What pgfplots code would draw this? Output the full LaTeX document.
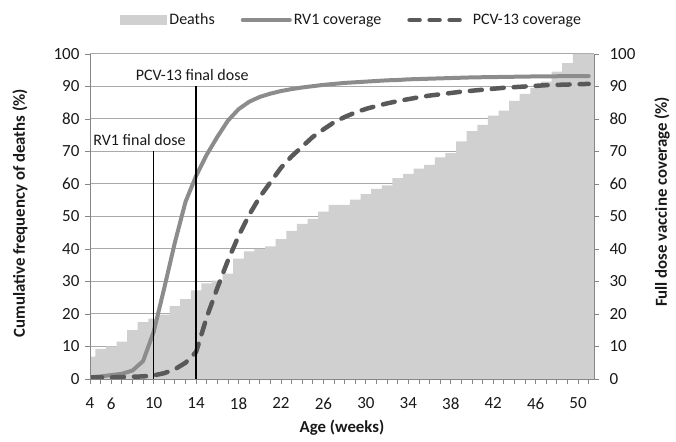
\documentclass[border=0pt]{standalone}
\usepackage{pgfplots}
\usepackage{pgfplotstable}
\pgfplotsset{compat=1.18}
\usepackage{fontspec}
\setmainfont{Carlito}
\definecolor{deathgray}{RGB}{208,208,208}
\definecolor{rvgray}{RGB}{140,140,140}
\definecolor{pcvgray}{RGB}{89,89,89}
\definecolor{gridgray}{RGB}{170,170,170}
\definecolor{axisgray}{RGB}{134,134,134}
\definecolor{txt}{RGB}{25,25,25}
\newcommand{\fs}{\fontsize{16}{19.2}\selectfont}
\newcommand{\ft}{\fontsize{17}{20}\selectfont}
\newcommand{\fl}{\fontsize{16.8}{20}\selectfont}
% cumulative deaths: value of week w held from w-0.5 to w+0.5
\pgfplotstableread{
x y
4 6.9
4.5 9.3
5.5 10.0
6.5 11.5
7.5 15.0
8.5 17.5
9.5 18.6
10.5 19.8
11.5 22.4
12.5 24.6
13.5 27.3
14.5 29.4
15.5 30.3
16.5 32.4
17.5 37.0
18.5 39.3
19.5 40.0
20.5 40.8
21.5 43.0
22.5 45.6
23.5 47.7
24.5 49.3
25.5 51.5
26.5 53.6
27.5 53.6
28.5 55.2
29.5 56.9
30.5 58.5
31.5 59.6
32.5 61.8
33.5 63.1
34.5 64.7
35.5 65.9
36.5 68.2
37.5 69.5
38.5 73.1
39.5 76.3
40.5 78.2
41.5 81.0
42.5 82.6
43.5 85.6
44.5 87.7
45.5 89.5
46.5 91.5
47.5 94.6
48.5 97.2
49.5 100
50.5 100
51.5 100
}\deaths
\pgfplotstableread{
x y
4 0.5
5 0.8
6 1.2
7 1.6
8 2.6
9 5.5
10 14.5
11 28
12 42
13 54.5
14 62.5
15 69
16 74.5
17 79.5
18 83
19 85.3
20 86.8
21 87.8
22 88.6
23 89.2
24 89.7
25 90.1
26 90.5
27 90.8
28 91.1
29 91.3
30 91.5
31 91.7
32 91.9
33 92.0
34 92.2
35 92.3
36 92.4
37 92.5
38 92.6
39 92.7
40 92.8
41 92.85
42 92.9
43 92.95
44 93.0
45 93.05
46 93.1
47 93.1
48 93.15
49 93.2
50 93.2
51 93.2
}\rvone
\pgfplotstableread{
x y
4 0.5
5 0.5
6 0.5
7 0.6
8 0.7
9 0.8
10 1.1
11 1.8
12 3.0
13 5.0
14 8.3
15 19
16 28
17 36.5
18 44
19 50.5
20 56
21 60.5
22 65
23 68.5
24 71.5
25 74.5
26 76.8
27 79
28 80.6
29 82
30 83.1
31 84
32 84.8
33 85.5
34 86.1
35 86.7
36 87.2
37 87.6
38 88.0
39 88.4
40 88.7
41 89.0
42 89.3
43 89.6
44 89.8
45 90.0
46 90.2
47 90.4
48 90.5
49 90.6
50 90.7
51 90.8
}\pcv
\begin{document}
\begin{tikzpicture}
\path[use as bounding box] (0,0) rectangle (676pt,441pt);
\begin{axis}[
  at={(90pt,62pt)}, anchor=south west,
  scale only axis, width=504pt, height=325pt,
  xmin=4, xmax=51.5, ymin=0, ymax=100,
  axis x line*=bottom, axis y line*=left,
  axis line style={draw=axisgray, line width=1pt, -},
  xtick={4,6,10,14,18,22,26,30,34,38,42,46,50},
  minor xtick={4,...,51},
  ytick={0,10,...,100},
  tick align=outside,
  major tick length=5pt, minor tick length=5pt,
  tick style={draw=axisgray, line width=0.8pt},
  ymajorgrids, major grid style={draw=gridgray, line width=1pt},
  ticklabel style={font=\ft, text=txt},
  xticklabel style={yshift=-10pt},
  yticklabel style={xshift=-2pt},
  /pgf/number format/assume math mode=true,
  xlabel={\textbf{Age (weeks)}},
  ylabel={\textbf{Cumulative frequency of deaths (\%)}},
  label style={font=\fl, text=txt},
  xlabel style={at={(axis description cs:0.5,-0.151)}, anchor=center},
  ylabel style={at={(axis description cs:-0.139,0.51)}, anchor=center},
  legend style={at={(axis description cs:0.054,1.105)}, anchor=west, draw=none, fill=none,
    font=\fs, text=txt, legend columns=-1,
    /tikz/every even column/.append style={column sep=24pt}},
]
\addplot[fill=deathgray, draw=none, const plot mark left,
  legend image code/.code={\fill[deathgray] (0pt,-5pt) rectangle (47pt,5pt);}]
  table[x=x,y=y]{\deaths} \closedcycle;
\addlegendentry{Deaths}
\addplot[rvgray, line width=4pt, line join=round, line cap=round,
  legend image code/.code={\draw[rvgray, line width=4pt] (0pt,0pt) -- (47pt,0pt);}]
  table[x=x,y=y]{\rvone};
\addlegendentry{RV1 coverage\hspace{14pt}}
\addplot[pcvgray, line width=4.5pt, line join=round, line cap=round, dash pattern=on 12pt off 10pt,
  legend image code/.code={\draw[pcvgray, line width=4.5pt, line cap=round, dash pattern=on 10pt off 10pt] (2pt,0pt) -- (61pt,0pt);}]
  table[x=x,y=y]{\pcv};
\addlegendentry{PCV-13 coverage}
\addplot[black, line width=1.4pt, forget plot] coordinates {(10,0) (10,70)};
\addplot[black, line width=1.4pt, forget plot] coordinates {(14,0) (14,90)};
\draw[axisgray, line width=1pt] (rel axis cs:0,0) -- (rel axis cs:0,1);
\node[anchor=west, font=\fs, text=txt, inner sep=0pt] at (axis cs:4.3,73.6) {RV1 final dose};
\node[anchor=west, font=\fs, text=txt, inner sep=0pt] at (axis cs:8.3,93.5) {PCV-13 final dose};
\end{axis}
\begin{axis}[
  at={(90pt,62pt)}, anchor=south west,
  scale only axis, width=504pt, height=325pt,
  xmin=4, xmax=51.5, ymin=0, ymax=100,
  axis x line*=bottom, axis y line*=right,
  axis line style={draw=axisgray, line width=1pt, -},
  xtick=\empty,
  ytick={0,10,...,100},
  tick align=outside, major tick length=5pt,
  tick style={draw=axisgray, line width=0.8pt},
  ticklabel style={font=\ft, text=txt},
  yticklabel style={xshift=7pt},
  /pgf/number format/assume math mode=true,
  ylabel={\textbf{Full dose vaccine coverage (\%)}},
  label style={font=\fl, text=txt},
  ylabel style={at={(axis description cs:1.135,0.545)}, anchor=center},
]
\addplot[draw=none] coordinates {(4,0)};
\end{axis}
\end{tikzpicture}
\end{document}
